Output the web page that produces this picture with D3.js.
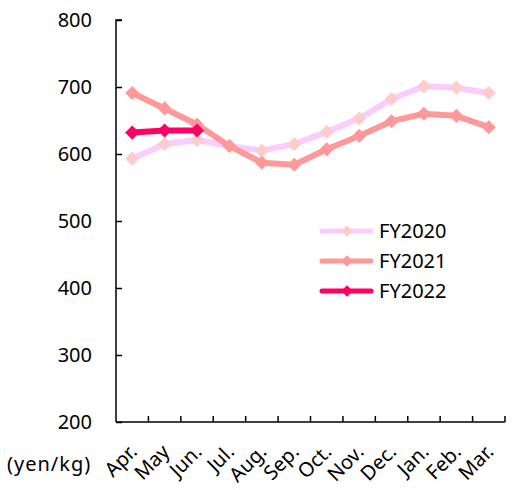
<!DOCTYPE html>
<html><head><meta charset="utf-8">
<script src="https://cdn.jsdelivr.net/npm/d3@7"></script>
<style>body{margin:0;background:#fff}text{font-family:"Noto Sans","Open Sans",sans-serif;fill:#000}</style>
</head><body><svg id="c" width="519" height="490"></svg>
<script>
const months = ["Apr.","May","Jun.","Jul.","Aug.","Sep.","Oct.","Nov.","Dec.","Jan.","Feb.","Mar."];
const yTicks = [200,300,400,500,600,700,800];
const fy2020 = [593,615,621,612,605,615,633,653,682,701,699,691];
const fy2021 = [691,668,644,612,587,584,607,627,649,660,657,640];
const fy2022 = [632,635,635];
const seriesNames = ["FY2020","FY2021","FY2022"];
const seriesData = [fy2020, fy2021, fy2022];
const lineColors = ["#FACCFF","#FF9999","#FF0066"];
const markColors = ["#FFCCCC","#FF9999","#FF0066"];

const svg = d3.select("#c");
const L=116, R=505, T=20, B=422;
const FS = 20;
const x = d3.scaleBand().domain(months).range([L,R]);
const y = d3.scaleLinear().domain([200,800]).range([B,T]);

const gy = svg.append("g").attr("transform",`translate(${L},0)`)
  .call(d3.axisLeft(y).tickValues(yTicks).tickSize(-6).tickPadding(24).tickFormat(d3.format("d")));
gy.select(".domain").attr("stroke","#000").attr("stroke-width",1.5).attr("d",`M6,${T}H0V${B}`);
gy.selectAll(".tick line").attr("stroke","#000").attr("stroke-width",1.5);
gy.selectAll(".tick text").attr("font-size",FS).attr("fill","#000");

const tickPos = months.map(m=>x(m)).concat([R]);
const gx = svg.append("g");
gx.append("line").attr("x1",L).attr("x2",R).attr("y1",B).attr("y2",B).attr("stroke","#000").attr("stroke-width",1.5);
gx.selectAll("line.t").data(tickPos.slice(1)).join("line").attr("class","t")
  .attr("x1",d=>d).attr("x2",d=>d).attr("y1",B).attr("y2",B-6).attr("stroke","#000").attr("stroke-width",1.5);
gx.selectAll("text").data(months).join("text")
  .attr("font-size",FS).attr("text-anchor","end")
  .attr("transform",d=>`translate(${x(d)+x.bandwidth()/2+6},${B+31}) rotate(-45)`)
  .text(d=>d);

svg.append("text").attr("x",7).attr("y",471).attr("font-size",FS).attr("letter-spacing",1).text("(yen/kg)");

const line = d3.line().x((d,i)=>x(months[i])+x.bandwidth()/2).y(d=>y(d));

seriesData.forEach((data,k)=>{
  svg.append("path").attr("d",line(data)).attr("fill","none")
    .attr("stroke",lineColors[k]).attr("stroke-width",6).attr("stroke-linejoin","round");
  svg.selectAll(null).data(data).join("path")
    .attr("d",d3.symbol().type(d3.symbolSquare).size(100))
    .attr("transform",(d,i)=>`translate(${x(months[i])+x.bandwidth()/2},${y(d)}) rotate(45)`)
    .attr("fill",markColors[k]);
});

const lg = svg.append("g");
seriesNames.forEach((n,k)=>{
  const yy = 231 + k*30;
  lg.append("line").attr("x1",322).attr("x2",371).attr("y1",yy).attr("y2",yy)
    .attr("stroke",lineColors[k]).attr("stroke-width",5).attr("stroke-linecap","round");
  lg.append("path").attr("d",d3.symbol().type(d3.symbolSquare).size(64)())
    .attr("transform",`translate(347,${yy}) rotate(45)`).attr("fill",markColors[k]);
  lg.append("text").attr("x",379).attr("y",yy).attr("dy","0.35em").attr("font-size",FS).text(n);
});
</script></body></html>
